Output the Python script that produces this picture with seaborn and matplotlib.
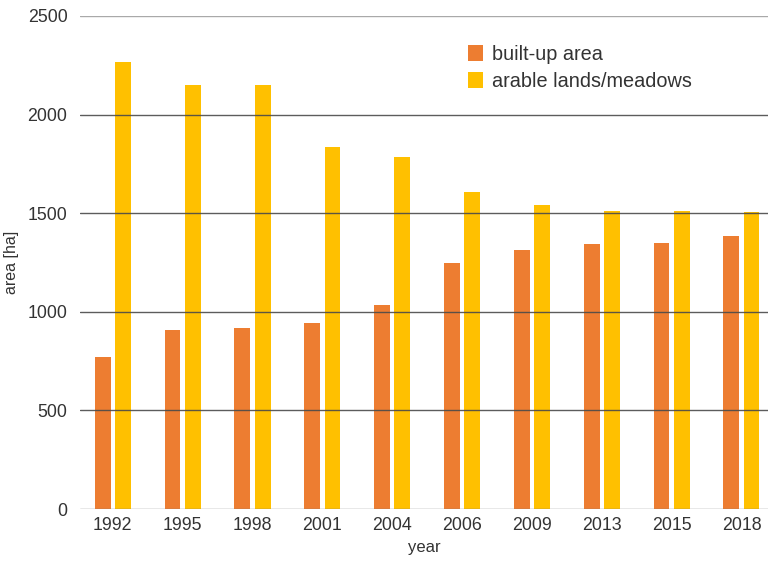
import pandas as pd
import seaborn as sns
import matplotlib.pyplot as plt

# values
years = ['1992', '1995', '1998', '2001', '2004', '2006', '2009', '2013', '2015', '2018']
built_up = [772, 908, 916, 943, 1033, 1246, 1313, 1342, 1349, 1384]
arable = [2268, 2150, 2150, 1837, 1787, 1609, 1542, 1513, 1513, 1508]
series_names = ['built-up area', 'arable lands/meadows']
colors = ['#ED7D31', '#FFC000']

df = pd.DataFrame({
    'year': years * 2,
    'area': built_up + arable,
    'type': [series_names[0]] * len(years) + [series_names[1]] * len(years),
})

sns.set_style('white')
plt.rcParams['font.family'] = ['Liberation Sans', 'DejaVu Sans']

fig = plt.figure(figsize=(7.7, 5.61), dpi=100)
ax = fig.add_axes([80 / 770, 52 / 561, 688 / 770, 493 / 561])

sns.barplot(data=df, x='year', y='area', hue='type', hue_order=series_names,
            palette=colors, saturation=1, width=0.58, gap=0.22, linewidth=0, ax=ax)

ax.set_ylim(0, 2500)
ax.set_xlim(-0.47, 9.38)
ax.set_yticks([0, 500, 1000, 1500, 2000, 2500])
ax.set_axisbelow(False)
ax.yaxis.grid(True, color='#4a4a4a', linewidth=1, alpha=0.9)
for line in ax.get_ygridlines()[-1:]:
    line.set_color('#a0a0a0')
for line in ax.get_ygridlines()[:1]:
    line.set_color('#808080')
for s in ax.spines.values():
    s.set_visible(False)
ax.tick_params(axis='both', length=0, labelsize=12.8, labelcolor='#333333')
ax.tick_params(axis='y', pad=9)
ax.tick_params(axis='x', pad=6)

ax.set_xlabel('year', fontsize=12, color='#333333', labelpad=4)
ax.set_ylabel('area [ha]', fontsize=11.5, color='#333333', labelpad=6)

handles, labels = ax.get_legend_handles_labels()
ax.legend(handles, labels, loc='upper left', bbox_to_anchor=(450 / 770, 1 - 27 / 561),
          bbox_transform=fig.transFigure, frameon=False, fontsize=14.3,
          handlelength=0.75, handleheight=0.9, handletextpad=0.45, labelspacing=0.4,
          labelcolor='#333333')

fig.savefig('out.png', dpi=100)
